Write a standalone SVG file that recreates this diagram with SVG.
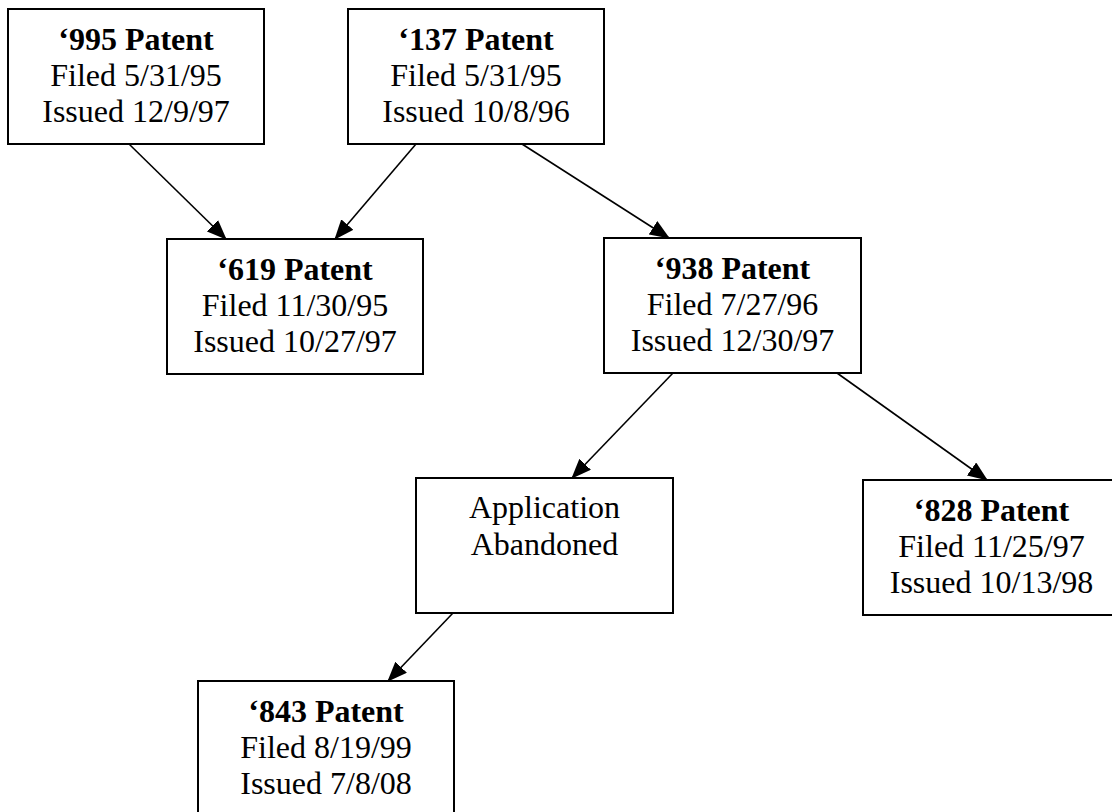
<svg xmlns="http://www.w3.org/2000/svg" width="1112" height="812" viewBox="0 0 1112 812">
<style>
.box{fill:#fff;stroke:#000;stroke-width:2}
text{font-family:"Liberation Serif","Times New Roman",serif;font-size:32px;fill:#000;text-anchor:middle}
.b{font-weight:bold}
.edge{stroke:#000;stroke-width:1.6;fill:none;marker-end:url(#ah)}
</style>
<defs>
<marker id="ah" markerUnits="userSpaceOnUse" markerWidth="20" markerHeight="16" refX="19" refY="8" orient="auto">
<path d="M0,0 L20,8 L0,16 Z" fill="#000"/>
</marker>
</defs>
<rect width="1112" height="812" fill="#fff"/>
<g id="connectors">
<line class="edge" x1="129" y1="144" x2="226" y2="239"/>
<line class="edge" x1="416" y1="144" x2="335" y2="239"/>
<line class="edge" x1="522" y1="144" x2="669" y2="238"/>
<line class="edge" x1="673" y1="373" x2="572" y2="478"/>
<line class="edge" x1="837" y1="373" x2="987" y2="480"/>
<line class="edge" x1="453" y1="613" x2="388" y2="681"/>
</g>
<g id="n995">
<rect class="box" x="8" y="9" width="256" height="135"/>
<text x="136" y="50" class="b">‘995 Patent</text>
<text x="136" y="86">Filed 5/31/95</text>
<text x="136" y="122">Issued 12/9/97</text>
</g>
<g id="n137">
<rect class="box" x="348" y="9" width="256" height="135"/>
<text x="476" y="50" class="b">‘137 Patent</text>
<text x="476" y="86">Filed 5/31/95</text>
<text x="476" y="122">Issued 10/8/96</text>
</g>
<g id="n619">
<rect class="box" x="167" y="239" width="256" height="135"/>
<text x="295" y="280" class="b">‘619 Patent</text>
<text x="295" y="316">Filed 11/30/95</text>
<text x="295" y="352">Issued 10/27/97</text>
</g>
<g id="n938">
<rect class="box" x="604" y="238" width="257" height="135"/>
<text x="732.5" y="279" class="b">‘938 Patent</text>
<text x="732.5" y="315">Filed 7/27/96</text>
<text x="732.5" y="351">Issued 12/30/97</text>
</g>
<g id="nAbandoned">
<rect class="box" x="416" y="478" width="257" height="135"/>
<text x="544.5" y="518">Application</text>
<text x="544.5" y="555">Abandoned</text>
</g>
<g id="n828">
<rect class="box" x="863" y="480" width="257" height="135"/>
<text x="991.5" y="521" class="b">‘828 Patent</text>
<text x="991.5" y="557">Filed 11/25/97</text>
<text x="991.5" y="593">Issued 10/13/98</text>
</g>
<g id="n843">
<rect class="box" x="198" y="681" width="256" height="135"/>
<text x="326" y="722" class="b">‘843 Patent</text>
<text x="326" y="758">Filed 8/19/99</text>
<text x="326" y="794">Issued 7/8/08</text>
</g>
</svg>
